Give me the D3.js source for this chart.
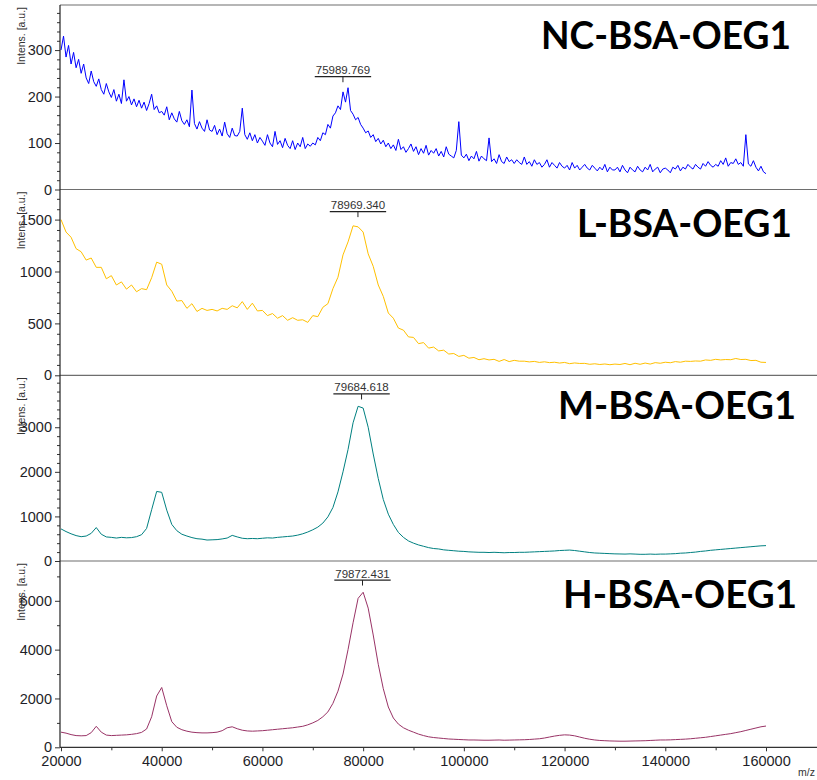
<!DOCTYPE html>
<html>
<head>
<meta charset="utf-8">
<script src="https://cdn.jsdelivr.net/npm/d3@7"></script>
<style>
body { margin: 0; background: #fff; }
svg { display: block; }
</style>
</head>
<body>
<div id="container"></div>
<script>
// samples, one panel each
let sampleNames = ["NC-BSA-OEG1", "L-BSA-OEG1", "M-BSA-OEG1", "H-BSA-OEG1"];
let lineColors = ["#0000ff", "#ffc000", "#008080", "#993366"];

// m/z sampling of the read-off values
let mzStart = 20000;
let mzEnd = 160000;
let ncStep = 500;
let otherStep = 1000;

// NC-BSA-OEG1, every 500 m/z
let ncIntens = [
  300, 330, 285, 310, 270, 295, 262, 280, 250, 270,
  240, 228, 255, 232, 222, 238, 215, 205, 228, 210,
  198, 215, 190, 205, 185, 236, 190, 200, 182, 195,
  178, 192, 175, 188, 170, 185, 205, 172, 180, 165,
  168, 160, 178, 150, 165, 152, 145, 168, 148, 140,
  150, 135, 214, 142, 130, 146, 132, 125, 150, 128,
  125, 138, 118, 130, 115, 145, 120, 112, 132, 116,
  115, 125, 175, 118, 108, 122, 105, 118, 100, 112,
  104, 95, 118, 100, 92, 125, 97, 105, 90, 110,
  95, 88, 105, 86, 100, 92, 112, 88, 98, 93,
  100, 96, 112, 105, 122, 118, 140, 132, 158, 165,
  180, 172, 210, 188, 219, 170, 162, 150, 155, 140,
  132, 122, 126, 112, 118, 103, 110, 98, 106, 92,
  100, 88, 96, 84, 108, 86, 92, 80, 88, 98,
  82, 92, 75, 88, 78, 95, 74, 84, 78, 88,
  72, 82, 70, 92, 76, 72, 68, 84, 146, 74,
  68, 76, 62, 72, 66, 82, 61, 72, 66, 62,
  111, 60, 66, 56, 75, 60, 56, 70, 60, 64,
  56, 64, 58, 54, 70, 54, 60, 50, 64, 54,
  58, 48, 54, 64, 48, 58, 52, 46, 58, 50,
  46, 52, 42, 58, 46, 52, 42, 48, 54, 46,
  42, 52, 46, 40, 48, 42, 54, 38, 48, 42,
  42, 48, 38, 52, 42, 36, 48, 42, 38, 50,
  42, 38, 48, 42, 54, 38, 44, 48, 36, 44,
  46, 42, 36, 48, 44, 52, 40, 48, 44, 54,
  48, 44, 54, 48, 44, 56, 50, 60, 52, 48,
  54, 50, 62, 54, 68, 50, 58, 56, 66, 54,
  58, 50, 118, 55, 50, 62, 48, 40, 50, 38,
  34
];

// L-BSA-OEG1, every 1000 m/z
let lIntens = [
  1500, 1380, 1330, 1220, 1190, 1110, 1130, 1040, 1040, 930,
  960, 870, 900, 830, 870, 805, 835, 825, 940, 1090,
  1070, 870, 810, 715, 720, 645, 690, 615, 645, 625,
  635, 620, 645, 635, 670, 650, 710, 635, 695, 620,
  625, 575, 595, 550, 575, 530, 555, 530, 535, 510,
  575, 565, 655, 690, 835, 945, 1160, 1285, 1440, 1430,
  1380, 1170, 1050, 870, 760, 600, 550, 455, 435, 370,
  365, 305, 315, 262, 272, 235, 242, 205, 210, 182,
  192, 165, 172, 150, 160, 148, 154, 134, 152, 132,
  144, 136, 136, 129, 134, 124, 130, 122, 126, 118,
  124, 112, 119, 114, 115, 106, 111, 104, 109, 102,
  108, 104, 114, 102, 116, 106, 118, 108, 122, 116,
  126, 121, 132, 126, 136, 134, 138, 136, 148, 144,
  154, 148, 152, 150, 162, 152, 154, 142, 144, 126,
  124
];

// M-BSA-OEG1, every 1000 m/z
let mIntens = [
  720, 660, 610, 570, 545, 560, 620, 750, 600, 540,
  530, 515, 530, 520, 525, 545, 590, 730, 1150, 1560,
  1540, 1140, 820, 680, 600, 560, 525, 500, 490, 470,
  475, 480, 495, 515, 575, 540, 510, 500, 505, 500,
  510, 520, 515, 530, 540, 550, 560, 580, 610, 650,
  700, 760, 850, 990, 1200, 1550, 2000, 2500, 3100, 3470,
  3430, 3000, 2400, 1850, 1380, 1050, 820, 640, 530, 450,
  400, 360, 330, 300, 280, 270, 250, 240, 230, 220,
  215, 205, 200, 195, 195, 190, 195, 190, 185, 190,
  190, 195, 195, 200, 205, 210, 215, 220, 225, 235,
  240, 245, 235, 220, 205, 190, 180, 175, 170, 165,
  160, 158, 155, 160, 155, 150, 150, 155, 150, 155,
  155, 160, 165, 175, 180, 190, 200, 215, 225, 240,
  250, 260, 270, 280, 290, 300, 310, 320, 330, 340,
  345
];

// H-BSA-OEG1, every 1000 m/z
let hIntens = [
  620, 580, 520, 480, 470, 480, 600, 860, 620, 500,
  480, 490, 500, 510, 530, 560, 610, 750, 1250, 2100,
  2450, 1700, 1050, 820, 720, 660, 620, 600, 590, 590,
  600, 620, 680, 800, 840, 760, 700, 670, 660, 670,
  680, 700, 720, 740, 760, 780, 800, 830, 860, 920,
  1000, 1100, 1250, 1450, 1800, 2300, 3000, 4000, 5100, 6100,
  6350, 5700, 4600, 3400, 2400, 1650, 1200, 950, 800, 700,
  620, 540, 480, 430, 400, 380, 360, 340, 330, 320,
  310, 300, 300, 295, 290, 290, 295, 300, 290, 295,
  300, 305, 310, 320, 335, 350, 380, 420, 460, 490,
  510, 500, 470, 420, 370, 330, 300, 280, 270, 260,
  255, 250, 250, 255, 260, 265, 270, 280, 290, 300,
  300, 305, 315, 325, 335, 350, 370, 390, 410, 440,
  470, 500, 530, 560, 600, 640, 690, 740, 790, 840,
  870
];

// peak annotations
let peakMz = [75989.769, 78969.340, 79684.618, 79872.431];
let peakLabels = ["75989.769", "78969.340", "79684.618", "79872.431"];
let peakIntens = [219, 1471, 3500, 6400];

// axes
let yMax = [397, 1790, 4165, 7630];
let yMajor = [[0, 100, 200, 300], [0, 500, 1000, 1500], [0, 1000, 2000, 3000], [0, 2000, 4000, 6000]];
let yMinorStep = [20, 100, 200, 1000];
let xMajor = [20000, 40000, 60000, 80000, 100000, 120000, 140000, 160000];
let xMinor = [30000, 50000, 70000, 90000, 110000, 130000, 150000];

// layout
let w = 817;
let h = 780;
let axisX = 60;
let panelEdges = [5, 189.5, 375.3, 561, 747.3];
let titleLeft = [541, 577, 558, 563];
let titleWidth = [250, 215, 238, 234];
let titleBase = [48.5, 237, 418.5, 608];

let series = [
  d3.range(mzStart, mzEnd + 1, ncStep).map((m, i) => [m, ncIntens[i]]),
  d3.range(mzStart, mzEnd + 1, otherStep).map((m, i) => [m, lIntens[i]]),
  d3.range(mzStart, mzEnd + 1, otherStep).map((m, i) => [m, mIntens[i]]),
  d3.range(mzStart, mzEnd + 1, otherStep).map((m, i) => [m, hIntens[i]])
];

let viz = d3.select("#container").append("svg")
  .attr("width", w)
  .attr("height", h)
  .style("font-family", "'Liberation Sans', Arial, sans-serif");

let x = d3.scaleLinear().domain([20000, 160000]).range([61, 766]);

// frame lines
viz.append("line")
  .attr("x1", axisX).attr("x2", w)
  .attr("y1", panelEdges[0]).attr("y2", panelEdges[0])
  .attr("stroke", "#6e6e6e").attr("stroke-width", 1.2);

sampleNames.forEach((name, p) => {
  let top = panelEdges[p];
  let bottom = panelEdges[p + 1];
  let y = d3.scaleLinear().domain([0, yMax[p]]).range([bottom, top]);
  let g = viz.append("g").attr("class", "panel");

  // minor ticks
  let minor = d3.range(0, yMax[p], yMinorStep[p]).filter(v => !yMajor[p].includes(v));
  let minorAxis = g.append("g")
    .attr("transform", `translate(${axisX},0)`)
    .call(d3.axisLeft(y).tickValues(minor).tickSize(3).tickFormat(""));
  minorAxis.select(".domain").remove();
  minorAxis.selectAll("line").attr("stroke", "#333");

  let majorAxis = g.append("g")
    .attr("transform", `translate(${axisX},0)`)
    .call(d3.axisLeft(y).tickValues(yMajor[p]).tickSize(5).tickPadding(3).tickFormat(d3.format("d")));
  majorAxis.select(".domain").remove();
  majorAxis.selectAll("line").attr("stroke", "#333");
  majorAxis.selectAll("text")
    .style("font-size", "14.5px")
    .style("font-family", "'Liberation Sans', Arial, sans-serif")
    .attr("fill", "#1e1e28");

  // zero line
  g.append("line")
    .attr("x1", axisX).attr("x2", w)
    .attr("y1", y(0)).attr("y2", y(0))
    .attr("stroke", p == 3 ? "#333" : "#6e6e6e")
    .attr("stroke-width", 1.2);

  // axis title
  g.append("text")
    .attr("transform", `translate(25,${top + 2}) rotate(-90)`)
    .attr("text-anchor", "end")
    .style("font-size", "10.5px")
    .attr("fill", "#333")
    .text("Intens. [a.u.]");

  // spectrum
  let lineMaker = d3.line().x(d => x(d[0])).y(d => y(d[1]));
  g.append("path")
    .datum(series[p])
    .attr("d", lineMaker)
    .attr("fill", "none")
    .attr("stroke", lineColors[p])
    .attr("stroke-width", 1)
    .attr("stroke-linejoin", "round");

  // peak label
  let px = x(peakMz[p]);
  let ly = y(peakIntens[p]) - 11;
  let label = g.append("text")
    .attr("x", px)
    .attr("y", ly - 2.5)
    .attr("text-anchor", "middle")
    .style("font-size", "11.5px")
    .attr("fill", "#333")
    .text(peakLabels[p]);
  let bb = label.node().getBBox();
  g.append("line")
    .attr("x1", bb.x - 1).attr("x2", bb.x + bb.width + 1)
    .attr("y1", ly).attr("y2", ly)
    .attr("stroke", "#222").attr("stroke-width", 1.2);
  g.append("line")
    .attr("x1", px).attr("x2", px)
    .attr("y1", ly).attr("y2", ly + 5.5)
    .attr("stroke", "#222").attr("stroke-width", 1);

  // sample name
  g.append("text")
    .attr("x", titleLeft[p])
    .attr("y", titleBase[p])
    .attr("textLength", titleWidth[p])
    .attr("lengthAdjust", "spacingAndGlyphs")
    .style("font-family", "Lato, 'Open Sans', sans-serif")
    .style("font-weight", "bold")
    .style("font-size", "39px")
    .attr("fill", "#000")
    .text(name);
});

// left axis line
viz.append("line")
  .attr("x1", axisX).attr("x2", axisX)
  .attr("y1", panelEdges[0]).attr("y2", panelEdges[4])
  .attr("stroke", "#222").attr("stroke-width", 1.2);

// x axis
let bottomY = panelEdges[4];
let xMinorAxis = viz.append("g")
  .attr("transform", `translate(0,${bottomY})`)
  .call(d3.axisBottom(x).tickValues(xMinor).tickSize(3).tickFormat(""));
xMinorAxis.select(".domain").remove();
xMinorAxis.selectAll("line").attr("stroke", "#333");

let xAxis = viz.append("g")
  .attr("transform", `translate(0,${bottomY})`)
  .call(d3.axisBottom(x).tickValues(xMajor).tickSize(4).tickPadding(4).tickFormat(d3.format("d")));
xAxis.select(".domain").remove();
xAxis.selectAll("line").attr("stroke", "#333");
xAxis.selectAll("text")
  .style("font-size", "14.5px")
  .style("font-family", "'Liberation Sans', Arial, sans-serif")
  .attr("fill", "#1e1e28");

viz.append("text")
  .attr("x", 815)
  .attr("y", 776)
  .attr("text-anchor", "end")
  .style("font-size", "10.5px")
  .attr("fill", "#333")
  .text("m/z");
</script>
</body>
</html>
